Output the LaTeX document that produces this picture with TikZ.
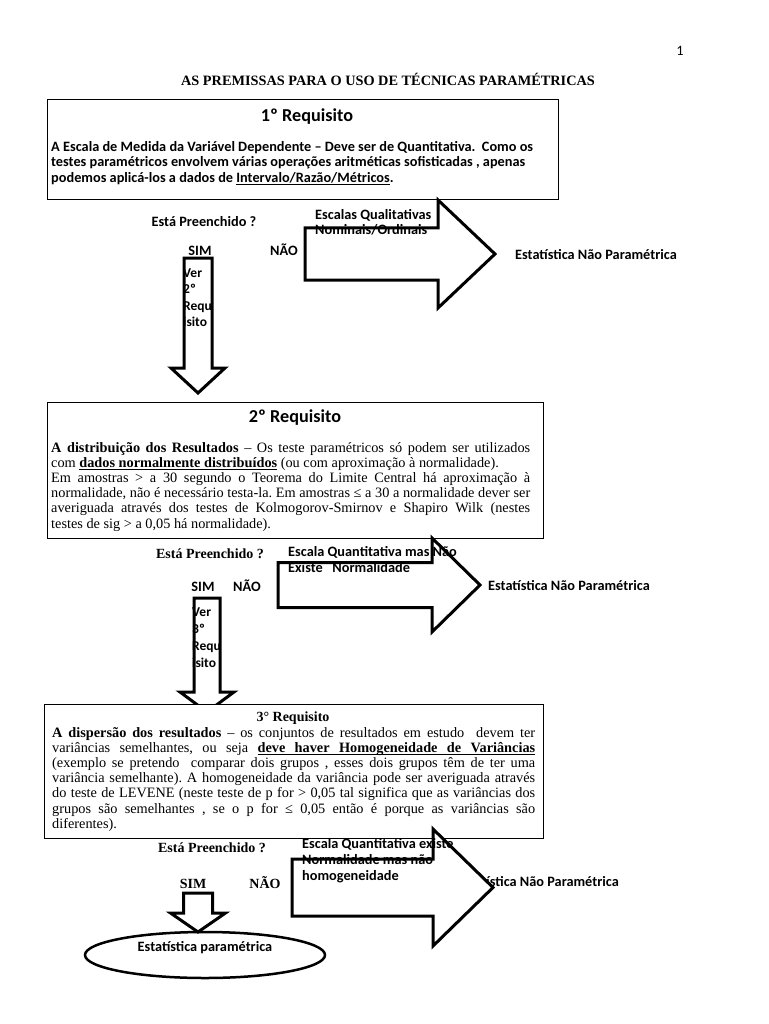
\documentclass[tikz,border=0pt]{standalone}
\usepackage{fontspec}
\setmainfont{Liberation Serif}
\newfontfamily\calibri{Carlito}
\usetikzlibrary{shapes.geometric}
\frenchspacing

% right and down block arrows, drawn as closed paths
\newcommand{\rblock}[6]{(#1,#2-#3) -- (#4,#2-#3) -- (#4,#2-#5) -- (#6,#2) -- (#4,#2+#5) -- (#4,#2+#3) -- (#1,#2+#3) -- cycle}
\newcommand{\dblock}[6]{(#1-#3,#2) -- (#1+#3,#2) -- (#1+#3,#4) -- (#1+#5,#4) -- (#1,#6) -- (#1-#5,#4) -- (#1-#3,#4) -- cycle}
% one justified line of a box body
\newcommand{\jl}[2][479pt]{\leavevmode\hbox to #1{#2}}
% underlined word and stretchable underlined space
\newcommand{\ulbox}[1]{\setbox0\hbox{#1}\rlap{\rule[-2.4pt]{\wd0}{0.7pt}}\box0}
\newcommand{\ulsp}{\leaders\hrule height -1.7pt depth 2.4pt\hskip .25em plus .125em minus .08em}

\begin{document}
\begin{tikzpicture}[x=1pt,y=-1pt]
  \tikzset{every node/.style={inner sep=0pt}}
  \tikzset{
    reqbox/.style={draw,line width=1pt,fill=white},
    blockarrow/.style={line width=3pt,line join=miter},
    cal/.style={font=\calibri\bfseries\fontsize{14.3}{16}\selectfont},
    callines/.style={cal,align=justify,text width=220pt},
    calbody/.style={font=\calibri\bfseries\fontsize{14.3}{15.5}\selectfont,align=justify,text width=500pt},
    calhead/.style={font=\calibri\bfseries\fontsize{18.2}{20}\selectfont},
    tms/.style={font=\fontsize{14.3}{15.2}\selectfont,align=justify,text width=500pt},
    tmsb/.style={font=\bfseries\fontsize{14}{16}\selectfont},
  }
  \useasboundingbox (0,0) rectangle (768,1024);

  % page number and title
  \node[font=\calibri\fontsize{14.3}{16}\selectfont,anchor=base] (pagenum) at (680,56) {1};
  \node[font=\bfseries\fontsize{14.3}{16}\selectfont,anchor=base] (title) at (388,86) {AS PREMISSAS PARA O USO DE TÉCNICAS PARAMÉTRICAS};

  % 1st requirement
  \node[reqbox,minimum width=511pt,minimum height=100pt] (req1) at (302.5,150) {};
  \node[calhead,anchor=base] (req1title) at (307,122) {1º Requisito};
  \node[calbody,anchor=base west] (req1body) at (51,151.5) {A Escala de Medida da Variável Dependente – Deve ser de Quantitativa.\ \ Como os\\
    testes paramétricos envolvem várias operações aritméticas sofisticadas , apenas\\
    podemos aplicá-los a dados de \ulbox{Intervalo/Razão/Métricos}.};

  % 2nd requirement
  \node[reqbox,minimum width=496pt,minimum height=136pt] (req2) at (295,470) {};
  \node[calhead,anchor=base] (req2title) at (295,422) {2º Requisito};
  \node[tms,anchor=base west] (req2body) at (51,452) {\jl{\textbf{A distribuição dos Resultados} – Os teste paramétricos só podem ser utilizados}\\
    com \textbf{\ulbox{dados normalmente distribuídos}} (ou com aproximação à normalidade).\\
    \jl{Em amostras > a 30 segundo o Teorema do Limite Central há aproximação à}\\
    \jl{normalidade, não é necessário testa-la. Em amostras ≤ a 30 a normalidade dever ser}\\
    \jl{averiguada através dos testes de Kolmogorov-Smirnov e Shapiro Wilk (nestes}\\
    testes de sig > a 0,05 há normalidade).};

  % down arrows to the next requirement
  \fill[white] \dblock{198}{258}{14}{368}{27}{393};
  \node[font=\calibri\bfseries\fontsize{13.5}{16.5}\selectfont,align=left,text width=40pt,anchor=base west] (see2) at (183,277) {Ver\\2º\\Requ\\isito};
  \draw[blockarrow] \dblock{198}{258}{14}{368}{27}{393};

  \fill[white] \dblock{207}{598}{13}{692}{27}{712};
  \node[font=\calibri\bfseries\fontsize{13.5}{17}\selectfont,align=left,text width=40pt,anchor=base west] (see3) at (192,616) {Ver\\3º\\Requ\\isito};
  \draw[blockarrow] \dblock{207}{598}{13}{692}{27}{712};

  % 3rd requirement
  \node[reqbox,minimum width=499pt,minimum height=134pt] (req3) at (293.5,771) {};
  \node[tmsb,anchor=base] (req3title) at (293,721) {3° Requisito};
  \node[tms,anchor=base west] (req3body) at (52,737) {\jl[483pt]{\textbf{A dispersão dos resultados} – os conjuntos de resultados em estudo\ \ devem ter}\\
    \jl[483pt]{variâncias semelhantes, ou seja \textbf{\ulbox{deve}\ulsp\ulbox{haver}\ulsp\ulbox{Homogeneidade}\ulsp\ulbox{de}\ulsp\ulbox{Variâncias}}}\\
    \jl[483pt]{(exemplo se pretendo\ \ comparar dois grupos , esses dois grupos têm de ter uma}\\
    \jl[483pt]{variância semelhante). A homogeneidade da variância pode ser averiguada através}\\
    \jl[483pt]{do teste de LEVENE (neste teste de p for > 0,05 tal significa que as variâncias dos}\\
    \jl[483pt]{grupos são semelhantes , se o p for ≤ 0,05 então é porque as variâncias são}\\
    diferentes).};

  % answers after the 1st requirement
  \node[cal,anchor=base] (ask1) at (204,226) {Está Preenchido ?};
  \node[cal,anchor=base] (yes1) at (200,255.5) {SIM};
  \node[cal,anchor=base] (no1) at (284,255.5) {NÃO};
  \node[cal,anchor=base west] (nonpar1) at (515,259) {Estatística Não Paramétrica};
  \fill[white] \rblock{305}{254}{26}{438}{54}{495};
  \node[callines,anchor=base west] (why1) at (315,219) {Escalas Qualitativas\\Nominais/Ordinais};
  \draw[blockarrow] \rblock{305}{254}{26}{438}{54}{495};

  % answers after the 2nd requirement
  \node[tmsb,anchor=base] (ask2) at (210,558) {Está Preenchido ?};
  \node[cal,anchor=base] (yes2) at (203,591) {SIM};
  \node[cal,anchor=base] (no2) at (247,591) {NÃO};
  \node[cal,anchor=base west] (nonpar2) at (488,590) {Estatística Não Paramétrica};
  \fill[white] \rblock{278}{585}{22.5}{432}{47}{480};
  \node[callines,anchor=base west] (why2) at (288,556) {Escala Quantitativa mas Não\\Existe\ \ \ Normalidade};
  \draw[blockarrow] \rblock{278}{585}{22.5}{432}{47}{480};

  % answers after the 3rd requirement
  \node[tmsb,anchor=base] (ask3) at (212,852) {Está Preenchido ?};
  \node[tmsb,anchor=base] (yes3) at (193,888) {SIM};
  \node[tmsb,anchor=base] (no3) at (265,888) {NÃO};
  \node[cal,anchor=base west] (nonpar3) at (457,886.5) {Estatística Não Paramétrica};
  \fill[white] \rblock{292}{887.5}{28.5}{433}{58.5}{493};
  \node[callines,anchor=base west] (why3) at (302,848) {Escala Quantitativa existe\\Normalidade mas não\\homogeneidade};
  \draw[blockarrow] \rblock{292}{887.5}{28.5}{433}{58.5}{493};

  % parametric statistics
  \draw[blockarrow,fill=white] \dblock{198}{893}{14.5}{913}{27.5}{932};
  \node[draw,ellipse,line width=2.5pt,minimum width=240pt,minimum height=46pt,cal,text depth=17pt] (param) at (205,955) {Estatística paramétrica};

\end{tikzpicture}
\end{document}
